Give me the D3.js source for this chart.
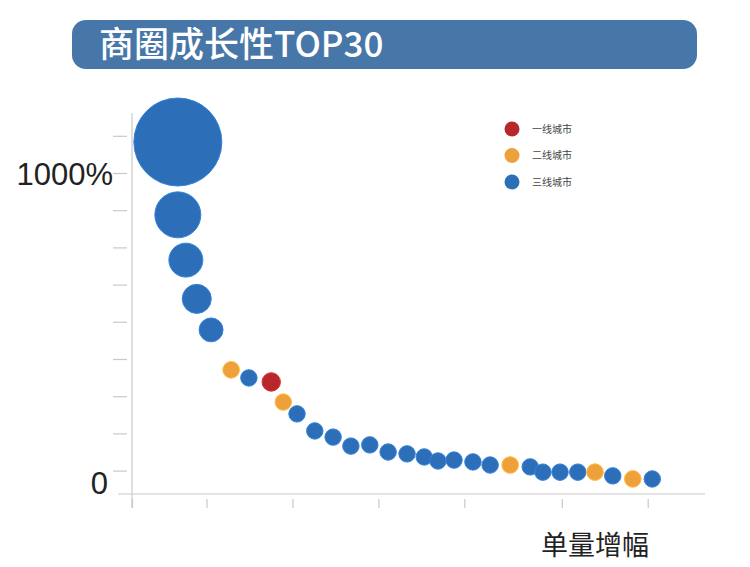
<!DOCTYPE html>
<html>
<head>
<meta charset="utf-8">
<script src="https://cdn.jsdelivr.net/npm/d3@7"></script>
<style>
  body { margin: 0; background: #fff; }
  text { font-family: "Liberation Sans", "Noto Sans CJK SC", sans-serif; }
</style>
</head>
<body>
<script>
// top 30 business districts
const xPos   = [8.0, 8.0, 9.4, 11.3, 13.8, 17.3, 20.4, 24.3, 26.4, 28.8,
                31.9, 35.1, 38.2, 41.5, 44.7, 48.0, 51.0, 53.4, 56.2, 59.5,
                62.5, 66.0, 69.5, 71.7, 74.7, 77.8, 80.8, 83.9, 87.4, 90.8];
const growth = [1100, 865, 719, 594, 494, 365, 339, 326, 261, 223,
                168, 148, 119, 123, 100, 94, 84, 71, 74, 68,
                58, 58, 52, 35, 35, 35, 35, 23, 13, 13];
const volume = [100, 27.3, 14.9, 10.9, 7.4, 3.6, 3.5, 4.4, 3.5, 3.5,
                3.5, 3.5, 3.5, 3.5, 3.5, 3.5, 3.5, 3.5, 3.5, 3.5,
                3.5, 3.6, 3.5, 3.5, 3.5, 3.5, 3.6, 3.5, 3.6, 3.5];
const tier   = [3, 3, 3, 3, 3, 2, 3, 1, 2, 3,
                3, 3, 3, 3, 3, 3, 3, 3, 3, 3,
                3, 2, 3, 3, 3, 3, 2, 3, 2, 3];

const tierNames  = ["一线城市", "二线城市", "三线城市"];
const tierColors = ["#b8272c", "#eea03a", "#2d6eb8"];
const yTicks = [40, 160, 280, 400, 520, 640, 760, 880, 1000, 1120];
const xTicks = [0, 13, 28, 43, 58, 75, 90];

const title = "商圈成长性TOP30";
const xTitle = "单量增幅";

const width = 750;
const height = 567;

var data = growth.map((g, i) => ({x: xPos[i], y: g, v: volume[i], t: tier[i]}));

var svg = d3.select("body").append("svg")
    .attr("width", width)
    .attr("height", height);

// title bar
svg.append("rect")
    .attr("x", 72).attr("y", 20)
    .attr("width", 625).attr("height", 49)
    .attr("rx", 14)
    .attr("fill", "#4677a8");

svg.append("text")
    .attr("x", 99).attr("y", 57)
    .attr("fill", "#fff")
    .attr("font-size", 35)
    .attr("font-weight", 500)
    .style("font-family", "'Noto Sans CJK SC', sans-serif")
    .text(title);

var xscale = d3.scaleLinear()
    .domain([0, 100])
    .range([132, 705]);

var yscale = d3.scaleLinear()
    .domain([0, 1000])
    .range([483, 173]);

var rscale = d3.scaleSqrt()
    .domain([0, 100])
    .range([0, 44]);

// axis lines
svg.append("line")
    .attr("x1", 132).attr("x2", 132)
    .attr("y1", 113).attr("y2", 508)
    .attr("stroke", "#c9c9c9").attr("stroke-width", 1.2);

svg.append("line")
    .attr("x1", 118).attr("x2", 705)
    .attr("y1", 494).attr("y2", 494)
    .attr("stroke", "#c9c9c9").attr("stroke-width", 1.2);

// y ticks (detached from the axis line)
var yaxis = d3.axisLeft(yscale)
    .tickValues(yTicks)
    .tickSize(14)
    .tickPadding(0)
    .tickFormat(d => d === 1000 ? "1000%" : "");

var gy = svg.append("g")
    .attr("transform", "translate(127, 0)")
    .call(yaxis);
gy.select(".domain").remove();
gy.selectAll("line").attr("stroke", "#c9c9c9").attr("stroke-width", 1.2);
gy.selectAll("text")
    .attr("font-size", 31)
    .attr("fill", "#222")
    .attr("dy", "0.36em")
    .style("font-family", "'Liberation Sans', sans-serif");

svg.append("text")
    .attr("x", 108).attr("y", yscale(0))
    .attr("dy", "0.36em")
    .attr("text-anchor", "end")
    .attr("font-size", 31)
    .attr("fill", "#222")
    .text("0");

// x ticks
var xaxis = d3.axisBottom(xscale)
    .tickValues(xTicks)
    .tickSize(9)
    .tickFormat("");

var gx = svg.append("g")
    .attr("transform", "translate(0, 499)")
    .call(xaxis);
gx.select(".domain").remove();
gx.selectAll("line").attr("stroke", "#c9c9c9").attr("stroke-width", 1.2);

svg.append("text")
    .attr("x", 595).attr("y", 555)
    .attr("text-anchor", "middle")
    .attr("font-size", 27)
    .attr("fill", "#222")
    .style("font-family", "'Noto Sans CJK SC', sans-serif")
    .text(xTitle);

// bubbles
svg.selectAll("circle.bubble")
    .data(data)
    .enter()
    .append("circle")
    .attr("class", "bubble")
    .attr("cx", d => xscale(d.x))
    .attr("cy", d => yscale(d.y))
    .attr("r", d => rscale(d.v))
    .attr("fill", d => tierColors[d.t - 1])
    .attr("stroke", d => d3.color(tierColors[d.t - 1]).brighter(0.5))
    .attr("stroke-width", 1);

// legend
var legend = svg.selectAll("g.legend")
    .data(tierNames)
    .enter()
    .append("g")
    .attr("class", "legend")
    .attr("transform", (d, i) => `translate(512, ${129 + i * 26.5})`);

legend.append("circle")
    .attr("r", 7.5)
    .attr("fill", (d, i) => tierColors[i]);

legend.append("text")
    .attr("x", 20)
    .attr("dy", "0.35em")
    .attr("font-size", 10)
    .attr("fill", "#444")
    .style("font-family", "'Noto Sans CJK SC', sans-serif")
    .text(d => d);
</script>
</body>
</html>
